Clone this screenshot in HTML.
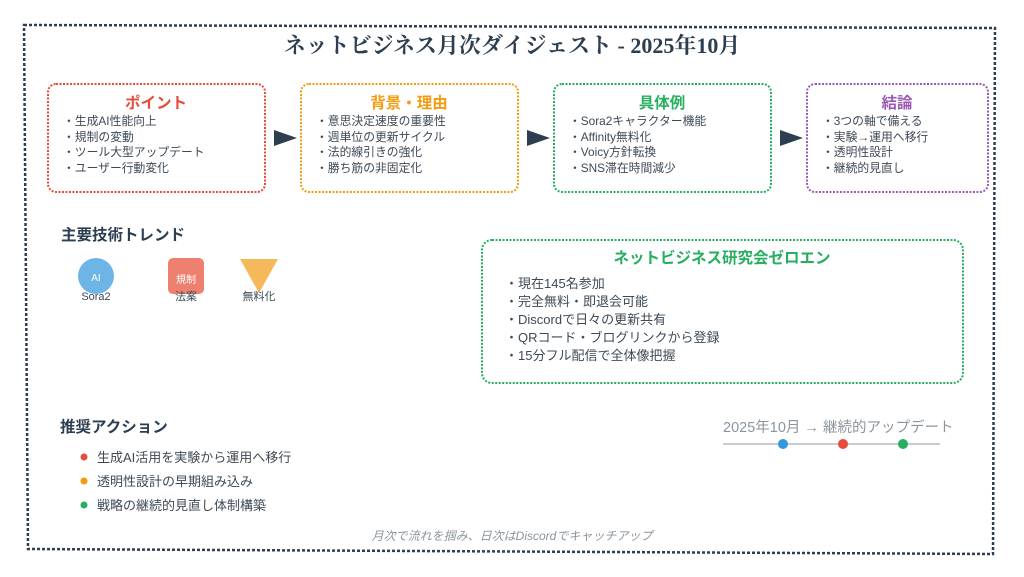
<!DOCTYPE html>
<html><head><meta charset="utf-8"><style>
html,body{margin:0;padding:0;background:#fff;}
svg{display:block;}
text{font-family:"Liberation Sans","Noto Sans CJK JP",sans-serif;}
</style></head><body>
<svg width="1024" height="577" viewBox="0 0 1024 577" xmlns="http://www.w3.org/2000/svg">
<path d="M24 25 L995 28 L993 554 L28 549 Z" fill="none" stroke="#2c3e50" stroke-width="2.5" stroke-dasharray="3,2"/>
<text x="512" y="53" text-anchor="middle" font-size="22" font-weight="bold" fill="#2c3e50" style="font-family:'Liberation Serif','Noto Serif CJK SC',serif">ネットビジネス月次ダイジェスト - 2025年10月</text>

<g stroke-width="2" stroke-dasharray="2,1.5" fill="none">
<rect x="48" y="84" width="217" height="108" rx="8" stroke="#e74c3c"/>
<rect x="301" y="84" width="217" height="108" rx="8" stroke="#f39c12"/>
<rect x="554" y="84" width="217" height="108" rx="8" stroke="#27ae60"/>
<rect x="807" y="84" width="181" height="108" rx="8" stroke="#9b59b6"/>
<rect x="482" y="240" width="481" height="143" rx="10" stroke="#27ae60"/>
</g>
<g fill="#2c3e50">
<polygon points="274,130 297,138 274,146"/>
<polygon points="527,130 550,138 527,146"/>
<polygon points="780,130 803,138 780,146"/>
</g>
<g font-size="15.5" font-weight="bold" text-anchor="middle">
<text x="156" y="108" fill="#e74c3c">ポイント</text>
<text x="409" y="108" fill="#f39c12">背景・理由</text>
<text x="662" y="108" fill="#27ae60">具体例</text>
<text x="897" y="108" fill="#9b59b6">結論</text>
</g>
<g font-size="11.8" fill="#3d4a56">
<text x="63" y="125">・生成AI性能向上</text>
<text x="63" y="141">・規制の変動</text>
<text x="63" y="156">・ツール大型アップデート</text>
<text x="63" y="172">・ユーザー行動変化</text>
<text x="316" y="125">・意思決定速度の重要性</text>
<text x="316" y="141">・週単位の更新サイクル</text>
<text x="316" y="156">・法的線引きの強化</text>
<text x="316" y="172">・勝ち筋の非固定化</text>
<text x="569" y="125">・Sora2キャラクター機能</text>
<text x="569" y="141">・Affinity無料化</text>
<text x="569" y="156">・Voicy方針転換</text>
<text x="569" y="172">・SNS滞在時間減少</text>
<text x="822" y="125">・3つの軸で備える</text>
<text x="822" y="141">・実験→運用へ移行</text>
<text x="822" y="156">・透明性設計</text>
<text x="822" y="172">・継続的見直し</text>
</g>

<text x="61" y="240" font-size="15.5" font-weight="bold" fill="#2c3e50">主要技術トレンド</text>
<circle cx="96" cy="276" r="18" fill="#6cb5e6"/>
<text x="96" y="281" font-size="10" fill="#fff" text-anchor="middle">AI</text>
<rect x="168" y="258" width="36" height="36" rx="5" fill="#ee8070"/>
<text x="186" y="283" font-size="10" fill="#fff" text-anchor="middle">規制</text>
<polygon points="240,259 278,259 259,293" fill="#f5b95b"/>
<text x="96" y="300" font-size="11" fill="#3d4a56" text-anchor="middle">Sora2</text>
<text x="186" y="300" font-size="11" fill="#3d4a56" text-anchor="middle">法案</text>
<text x="259" y="300" font-size="11" fill="#3d4a56" text-anchor="middle">無料化</text>

<text x="722" y="263" font-size="15.5" font-weight="bold" fill="#27ae60" text-anchor="middle">ネットビジネス研究会ゼロエン</text>
<g font-size="13" fill="#3d4a56">
<text x="505" y="288">・現在145名参加</text>
<text x="505" y="306">・完全無料・即退会可能</text>
<text x="505" y="324">・Discordで日々の更新共有</text>
<text x="505" y="342">・QRコード・ブログリンクから登録</text>
<text x="505" y="360">・15分フル配信で全体像把握</text>
</g>

<text x="60" y="432" font-size="15.5" font-weight="bold" fill="#2c3e50">推奨アクション</text>
<circle cx="84" cy="457" r="3.5" fill="#e74c3c"/>
<circle cx="84" cy="481" r="3.5" fill="#f39c12"/>
<circle cx="84" cy="505" r="3.5" fill="#27ae60"/>
<g font-size="13" fill="#3d4a56">
<text x="97" y="462">生成AI活用を実験から運用へ移行</text>
<text x="97" y="486">透明性設計の早期組み込み</text>
<text x="97" y="510">戦略の継続的見直し体制構築</text>
</g>

<text x="723" y="432" font-size="14.5" fill="#8a959e">2025年10月 → 継続的アップデート</text>
<line x1="723" y1="444" x2="940" y2="444" stroke="#c8ccd0" stroke-width="2"/>
<circle cx="783" cy="444" r="5" fill="#3498db"/>
<circle cx="843" cy="444" r="5" fill="#e74c3c"/>
<circle cx="903" cy="444" r="5" fill="#27ae60"/>

<text x="512" y="540" font-size="12" font-style="italic" fill="#8a959e" text-anchor="middle">月次で流れを掴み、日次はDiscordでキャッチアップ</text>
</svg>
</body></html>
